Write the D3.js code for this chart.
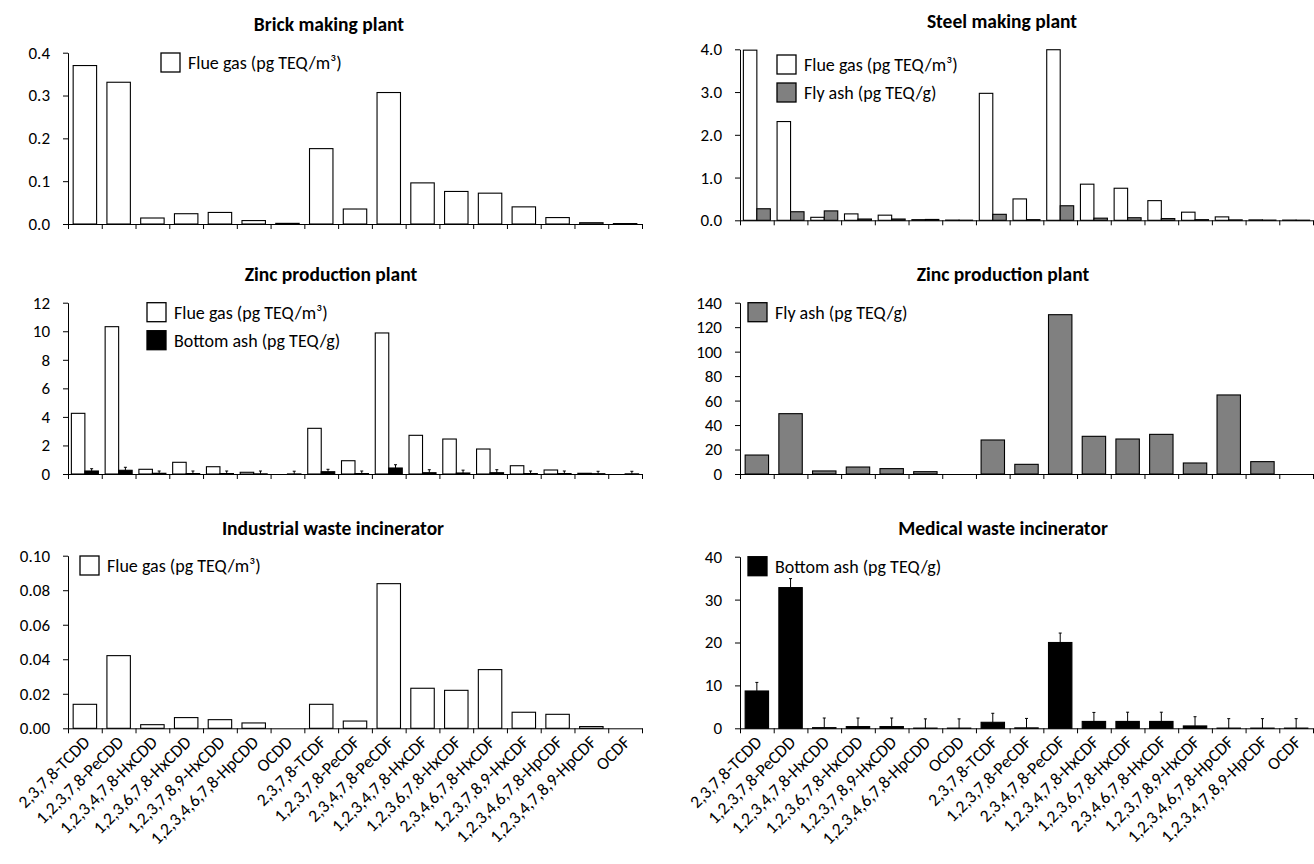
<!DOCTYPE html>
<html>
<head>
<meta charset="utf-8">
<title>PCDD/F congener TEQ profiles</title>
<script src="https://cdn.jsdelivr.net/npm/d3@7"></script>
<style>
  body { margin: 0; background: #fff; }
  svg { display: block; font-family: Calibri, Carlito, Lato, sans-serif; }
</style>
</head>
<body>
<script>
// congeners on the x axis
var categories = ["2,3,7,8-TCDD", "1,2,3,7,8-PeCDD", "1,2,3,4,7,8-HxCDD", "1,2,3,6,7,8-HxCDD",
  "1,2,3,7,8,9-HxCDD", "1,2,3,4,6,7,8-HpCDD", "OCDD", "2,3,7,8-TCDF", "1,2,3,7,8-PeCDF",
  "2,3,4,7,8-PeCDF", "1,2,3,4,7,8-HxCDF", "1,2,3,6,7,8-HxCDF", "2,3,4,6,7,8-HxCDF",
  "1,2,3,7,8,9-HxCDF", "1,2,3,4,6,7,8-HpCDF", "1,2,3,4,7,8,9-HpCDF", "OCDF"];

// brick making plant, flue gas
var brickFlue = [0.370, 0.331, 0.014, 0.024, 0.027, 0.008, 0.0015, 0.176, 0.035, 0.307, 0.096, 0.076, 0.072, 0.040, 0.015, 0.003, 0.001];
// steel making plant
var steelFlue = [3.98, 2.31, 0.07, 0.15, 0.12, 0.015, 0.005, 2.97, 0.50, 3.99, 0.845, 0.75, 0.46, 0.19, 0.08, 0.01, 0.005];
var steelFly = [0.27, 0.20, 0.22, 0.03, 0.03, 0.02, 0.003, 0.14, 0.015, 0.34, 0.05, 0.06, 0.04, 0.015, 0.01, 0.005, 0.003];
// zinc production plant
var zincFlue = [4.25, 10.32, 0.33, 0.82, 0.51, 0.12, 0, 3.2, 0.93, 9.88, 2.71, 2.45, 1.75, 0.58, 0.28, 0.05, 0];
var zincBottom = [0.21, 0.26, 0.05, 0.03, 0.03, 0.01, 0.005, 0.16, 0.03, 0.42, 0.09, 0.07, 0.09, 0.03, 0.03, 0.02, 0.01];
var zincBottomErr = [0.16, 0.21, 0.16, 0.18, 0.18, 0.2, 0.19, 0.17, 0.18, 0.23, 0.21, 0.2, 0.21, 0.18, 0.18, 0.17, 0.18];
var zincFly = [15.5, 49.3, 2.5, 5.7, 4.4, 1.9, 0, 27.8, 7.9, 130.2, 30.8, 28.6, 32.4, 9.0, 64.6, 10.1, 0];
// industrial waste incinerator, flue gas
var industrialFlue = [0.0139, 0.0421, 0.0021, 0.0062, 0.0050, 0.0031, 0, 0.0139, 0.0042, 0.0838, 0.0232, 0.0220, 0.0340, 0.0093, 0.0081, 0.001, 0];
// medical waste incinerator, bottom ash
var medicalBottom = [8.7, 32.8, 0.15, 0.4, 0.4, 0.05, 0.05, 1.4, 0.1, 20.0, 1.6, 1.6, 1.6, 0.55, 0.05, 0.05, 0.05];
var medicalBottomErr = [2.0, 2.1, 2.25, 2.0, 2.0, 2.15, 2.15, 2.1, 2.2, 2.2, 2.1, 2.15, 2.15, 2.15, 2.2, 2.2, 2.2];

// axis ticks
var brickTicks = [0, 0.1, 0.2, 0.3, 0.4];
var steelTicks = [0, 1, 2, 3, 4];
var zincFlueTicks = [0, 2, 4, 6, 8, 10, 12];
var zincFlyTicks = [0, 20, 40, 60, 80, 100, 120, 140];
var industrialTicks = [0, 0.02, 0.04, 0.06, 0.08, 0.10];
var medicalTicks = [0, 10, 20, 30, 40];

var flueLabel = "Flue gas (pg TEQ/m\u00B3)";
var flyLabel = "Fly ash (pg TEQ/g)";
var bottomLabel = "Bottom ash (pg TEQ/g)";

var W = 1314, H = 864;

var svg = d3.select("body").append("svg")
  .attr("width", W)
  .attr("height", H);

svg.append("rect").attr("width", W).attr("height", H).attr("fill", "#fff");

// panel layout
var panels = [
  { title: "Brick making plant", x0: 68, x1: 642, yTop: 52.7, yBot: 224, titleX: 329, titleY: 31,
    ticks: brickTicks, fmt: ".1f", legX: 161, legY: 53,
    series: [{ values: brickFlue, fill: "#fff", label: flueLabel }] },
  { title: "Steel making plant", x0: 740, x1: 1313, yTop: 49.3, yBot: 220.3, titleX: 1002, titleY: 28,
    ticks: steelTicks, fmt: ".1f", legX: 777, legY: 55,
    series: [{ values: steelFlue, fill: "#fff", label: flueLabel },
             { values: steelFly, fill: "#808080", label: flyLabel }] },
  { title: "Zinc production plant", x0: 68, x1: 642, yTop: 302.7, yBot: 474, titleX: 331, titleY: 281,
    ticks: zincFlueTicks, fmt: "d", legX: 147, legY: 302.7,
    series: [{ values: zincFlue, fill: "#fff", label: flueLabel },
             { values: zincBottom, errors: zincBottomErr, fill: "#000", label: bottomLabel }] },
  { title: "Zinc production plant", x0: 740, x1: 1313, yTop: 302.7, yBot: 474, titleX: 1003, titleY: 281,
    ticks: zincFlyTicks, fmt: "d", legX: 748, legY: 302.7,
    series: [{ values: zincFly, fill: "#808080", label: flyLabel }] },
  { title: "Industrial waste incinerator", x0: 68, x1: 642, yTop: 555.7, yBot: 728.3, titleX: 333, titleY: 535,
    ticks: industrialTicks, fmt: ".2f", legX: 80, legY: 556, labels: true,
    series: [{ values: industrialFlue, fill: "#fff", label: flueLabel }] },
  { title: "Medical waste incinerator", x0: 740, x1: 1313, yTop: 556.7, yBot: 728.3, titleX: 1003, titleY: 535,
    ticks: medicalTicks, fmt: "d", legX: 748, legY: 556.7, labels: true,
    series: [{ values: medicalBottom, errors: medicalBottomErr, fill: "#000", label: bottomLabel }] }
];

panels.forEach(drawPanel);

function drawPanel(p) {
  var g = svg.append("g");
  var x = d3.scaleBand().domain(categories).range([p.x0, p.x1]);
  var y = d3.scaleLinear().domain([0, d3.max(p.ticks)]).range([p.yBot, p.yTop]);
  var n = p.series.length;
  var inner = d3.scaleBand().domain(d3.range(n)).range([0, x.bandwidth()])
    .paddingInner(0).paddingOuter(n > 1 ? 0.25 : 0.22);

  // title
  g.append("text")
    .attr("x", p.titleX).attr("y", p.titleY)
    .attr("text-anchor", "middle")
    .attr("font-weight", "bold")
    .attr("font-size", 19.5)
    .attr("fill", "#000")
    .text(p.title);

  // bars
  p.series.forEach(function(s, i) {
    g.append("g").selectAll("rect")
      .data(s.values)
      .join("rect")
      .attr("x", function(d, j) { return x(categories[j]) + inner(i); })
      .attr("y", function(d) { return y(d); })
      .attr("width", inner.bandwidth())
      .attr("height", function(d) { return y(0) - y(d); })
      .attr("fill", s.fill)
      .attr("stroke", "#000")
      .attr("stroke-width", 1.1)
      .attr("display", function(d) { return d > 0 ? null : "none"; });

    // upper error bars
    if (s.errors) {
      var eg = g.append("g").attr("stroke", "#000").attr("stroke-width", 1);
      s.values.forEach(function(v, j) {
        var cx = x(categories[j]) + inner(i) + inner.bandwidth() / 2;
        eg.append("line").attr("x1", cx).attr("x2", cx)
          .attr("y1", y(v)).attr("y2", y(v + s.errors[j]));
        eg.append("line").attr("x1", cx - 1.5).attr("x2", cx + 1.5)
          .attr("y1", y(v + s.errors[j])).attr("y2", y(v + s.errors[j]));
      });
    }
  });

  // y axis
  var ya = g.append("g")
    .attr("transform", "translate(" + p.x0 + ",0)")
    .call(d3.axisLeft(y).tickValues(p.ticks).tickFormat(d3.format(p.fmt))
      .tickSize(5).tickSizeOuter(0).tickPadding(13));
  ya.attr("font-family", null).attr("font-size", 17);
  ya.selectAll("text").attr("fill", "#000");

  // x axis, ticks between categories
  var xb = d3.scaleLinear().domain([0, categories.length]).range([p.x0, p.x1]);
  var xa = g.append("g")
    .attr("transform", "translate(0," + p.yBot + ")")
    .call(d3.axisBottom(xb).tickValues(d3.range(categories.length + 1))
      .tickFormat("").tickSize(5).tickSizeOuter(0));
  xa.selectAll("path, line").attr("stroke", "#000");
  ya.selectAll("path, line").attr("stroke", "#000");

  // category labels
  if (p.labels) {
    g.append("g").selectAll("text")
      .data(categories)
      .join("text")
      .attr("text-anchor", "end")
      .attr("font-size", 17.5)
      .attr("fill", "#000")
      .attr("transform", function(d) {
        return "translate(" + (x(d) + x.bandwidth() / 2 + 6) + "," + (p.yBot + 15) + ") rotate(-45)";
      })
      .text(function(d) { return d; });
  }

  // legend
  var lg = g.append("g").attr("transform", "translate(" + p.legX + "," + p.legY + ")");
  p.series.forEach(function(s, i) {
    lg.append("rect")
      .attr("x", 0).attr("y", i * 28)
      .attr("width", 19).attr("height", 19)
      .attr("fill", s.fill).attr("stroke", "#000").attr("stroke-width", 1.3);
    lg.append("text")
      .attr("x", 27).attr("y", i * 28 + 16)
      .attr("font-size", 18)
      .attr("fill", "#000")
      .text(s.label);
  });
}
</script>
</body>
</html>
